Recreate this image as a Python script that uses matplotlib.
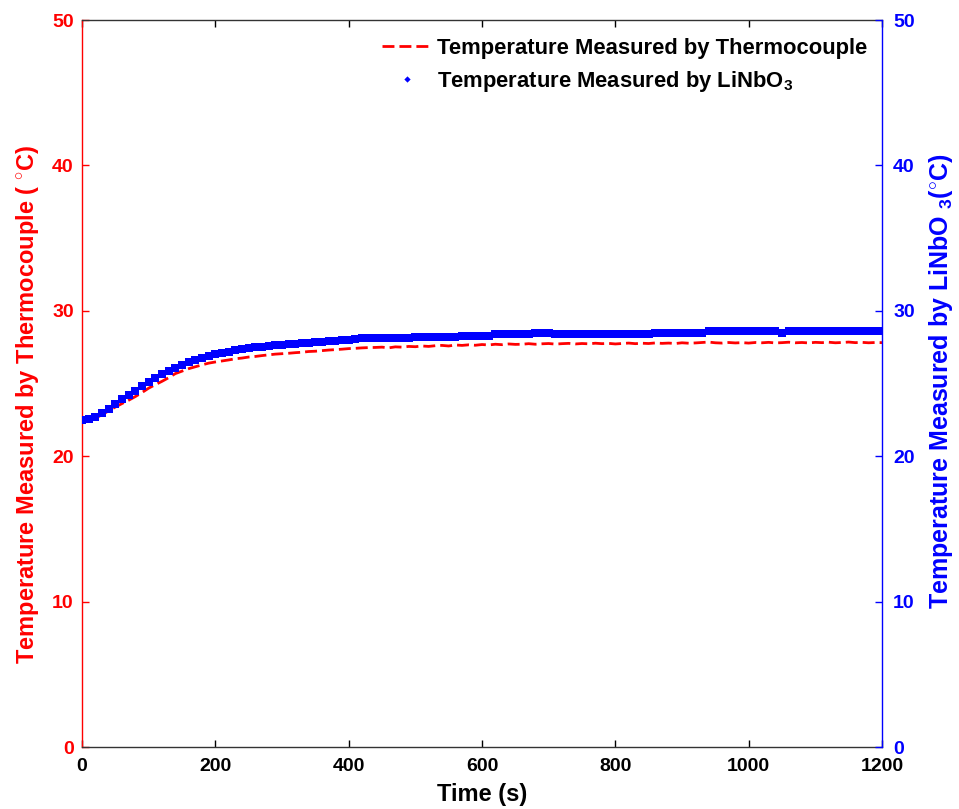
import numpy as np
import matplotlib
matplotlib.use("Agg")
import matplotlib.pyplot as plt
from matplotlib.lines import Line2D

plt.rcParams['font.family'] = ['Liberation Sans', 'DejaVu Sans']
plt.rcParams['mathtext.fontset'] = 'custom'
plt.rcParams['mathtext.rm'] = 'Liberation Sans:bold'
plt.rcParams['mathtext.it'] = 'Liberation Sans:bold:italic'
plt.rcParams['mathtext.bf'] = 'Liberation Sans:bold'

# Sampling times (s), every 10 s
time_s = list(range(0, 1201, 10))

# Thermocouple reading (deg C)
temp_thermocouple = [
    22.50, 22.52, 22.62, 22.85, 23.12, 23.38, 23.62, 23.85, 24.10, 24.38,
    24.68, 24.92, 25.15, 25.40, 25.68, 25.85, 26.02, 26.15, 26.28, 26.40,
    26.48, 26.55, 26.62, 26.70, 26.75, 26.82, 26.86, 26.92, 26.97, 27.02,
    27.05, 27.08, 27.12, 27.15, 27.20, 27.22, 27.26, 27.30, 27.33, 27.36,
    27.40, 27.42, 27.45, 27.47, 27.48, 27.50, 27.45, 27.52, 27.50, 27.55,
    27.53, 27.58, 27.55, 27.60, 27.62, 27.58, 27.65, 27.62, 27.66, 27.63,
    27.68, 27.65, 27.70, 27.67, 27.72, 27.69, 27.70, 27.74, 27.70, 27.73,
    27.75, 27.71, 27.74, 27.76, 27.72, 27.75, 27.73, 27.77, 27.74, 27.76,
    27.72, 27.75, 27.78, 27.74, 27.77, 27.75, 27.79, 27.76, 27.78, 27.75,
    27.80, 27.77, 27.79, 27.82, 27.85, 27.80, 27.78, 27.82, 27.79, 27.81,
    27.78, 27.82, 27.80, 27.83, 27.79, 27.81, 27.84, 27.80, 27.82, 27.79,
    27.83, 27.81, 27.84, 27.80, 27.82, 27.85, 27.81, 27.83, 27.80, 27.82,
    27.81,
]

# LiNbO3 sensor reading (deg C)
temp_linbo3 = [
    22.50, 22.55, 22.70, 22.95, 23.25, 23.58, 23.90, 24.20, 24.50, 24.80,
    25.08, 25.35, 25.62, 25.85, 26.08, 26.28, 26.45, 26.62, 26.78, 26.92,
    27.03, 27.12, 27.20, 27.28, 27.35, 27.42, 27.48, 27.53, 27.58, 27.62,
    27.66, 27.70, 27.73, 27.76, 27.80, 27.83, 27.86, 27.90, 27.93, 27.96,
    28.00, 28.03, 28.10, 28.10, 28.10, 28.10, 28.10, 28.10, 28.10, 28.10,
    28.20, 28.20, 28.20, 28.20, 28.20, 28.20, 28.20, 28.30, 28.30, 28.30,
    28.30, 28.30, 28.40, 28.40, 28.40, 28.40, 28.40, 28.40, 28.50, 28.50,
    28.50, 28.40, 28.40, 28.40, 28.40, 28.40, 28.40, 28.40, 28.40, 28.40,
    28.40, 28.40, 28.40, 28.40, 28.40, 28.40, 28.50, 28.50, 28.50, 28.50,
    28.50, 28.50, 28.50, 28.50, 28.60, 28.60, 28.60, 28.60, 28.60, 28.60,
    28.60, 28.60, 28.60, 28.60, 28.60, 28.50, 28.60, 28.60, 28.60, 28.60,
    28.60, 28.60, 28.60, 28.60, 28.60, 28.60, 28.60, 28.60, 28.60, 28.60,
    28.60,
]

x_ticks = [0, 200, 400, 600, 800, 1000, 1200]
y_ticks = [0, 10, 20, 30, 40, 50]

red = '#ff0000'
blue = '#0000ff'

fig = plt.figure(figsize=(9.59, 8.09), dpi=100)
ax1 = fig.add_axes([82 / 959, 1 - 747 / 809, 800 / 959, 727 / 809])
ax2 = ax1.twinx()

line_tc, = ax1.plot(time_s, temp_thermocouple, color=red, lw=2.0,
                    linestyle=(0, (4.3, 1.8)))
ax2.plot(time_s, temp_linbo3, linestyle='none', marker='s',
         ms=6.4, mew=0, color=blue)

ax1.set_xlim(0, 1200)
ax1.set_ylim(0, 50)
ax2.set_ylim(0, 50)
ax1.set_xticks(x_ticks)
ax1.set_yticks(y_ticks)
ax2.set_yticks(y_ticks)

ax1.tick_params(axis='x', direction='in', length=5, width=1, colors='black',
                labelsize=14, pad=8, top=True)
ax1.tick_params(axis='y', direction='in', length=5, width=1, colors=red,
                labelsize=14, pad=6)
ax2.tick_params(axis='y', direction='in', length=5, width=1, colors=blue,
                labelsize=14, pad=8)
for lbl in ax1.get_xticklabels() + ax1.get_yticklabels() + ax2.get_yticklabels():
    lbl.set_fontweight('bold')

for s in ('left', 'right', 'top', 'bottom'):
    ax1.spines[s].set_linewidth(1.0)
    ax2.spines[s].set_linewidth(1.0)
ax1.spines['left'].set_color(red)
ax1.spines['right'].set_visible(False)
ax1.spines['top'].set_color('#333333')
ax1.spines['bottom'].set_color('#333333')
ax2.spines['left'].set_visible(False)
ax2.spines['top'].set_visible(False)
ax2.spines['bottom'].set_visible(False)
ax2.spines['right'].set_color(blue)

ax1.set_xlabel('Time (s)', fontsize=17, fontweight='bold', labelpad=6)
ax1.set_ylabel(r'Temperature Measured by Thermocouple ( $^{\circ}$C)',
               fontsize=17, fontweight='bold', color=red)
ax1.yaxis.set_label_coords(-0.051, 0.472)
ax2.set_ylabel(r'Temperature Measured by LiNbO $_{3}$($^{\circ}$C)',
               fontsize=18, fontweight='bold', color=blue)
ax2.yaxis.set_label_coords(1.056, 0.503)

# Legend entries
legend_handles = [
    Line2D([], [], color=red, lw=2.0, linestyle=(0, (4.3, 1.8))),
    Line2D([], [], linestyle='none', marker='D', ms=3.2, mew=0, color=blue),
]
legend_labels = ['Temperature Measured by Thermocouple',
                 'Temperature Measured by LiNbO$_3$']
leg = ax2.legend(legend_handles, legend_labels, loc='upper right',
                 bbox_to_anchor=(867 / 959, 1 - 38 / 809),
                 bbox_transform=fig.transFigure, frameon=False,
                 prop={'size': 15.8, 'weight': 'bold'},
                 handlelength=2.3, handletextpad=0.2,
                 labelspacing=0.45, borderpad=0,
                 borderaxespad=0)

fig.savefig('out.png', dpi=100)
